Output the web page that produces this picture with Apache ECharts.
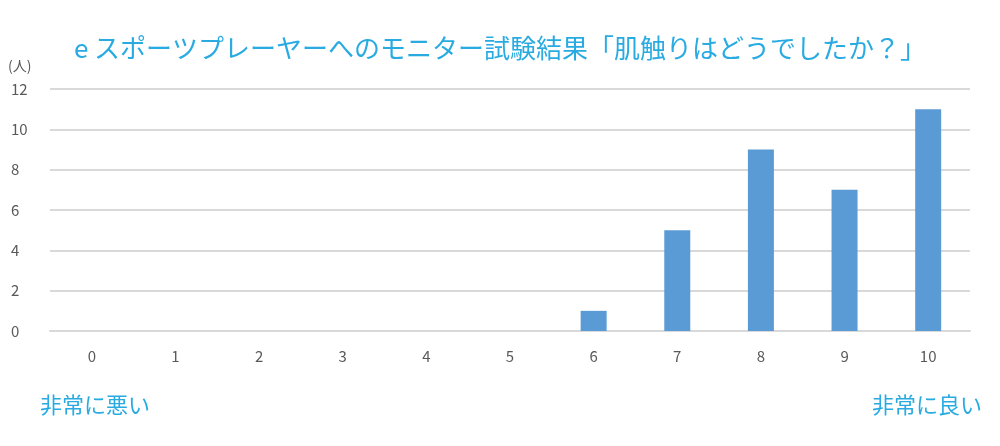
<!DOCTYPE html>
<html>
<head>
<meta charset="utf-8">
<script src="https://cdn.jsdelivr.net/npm/echarts@6/dist/echarts.min.js"></script>
<style>
  html, body { margin: 0; padding: 0; background: #fff; }
  #chart { width: 1000px; height: 446px; }
</style>
</head>
<body>
<div id="chart"></div>
<script>
const categories = ['0', '1', '2', '3', '4', '5', '6', '7', '8', '9', '10'];
const counts = [0, 0, 0, 0, 0, 0, 1, 5, 9, 7, 11];
const titleText = 'e スポーツプレーヤーへのモニター試験結果「肌触りはどうでしたか？」';

const blue = '#29abe2';
const font = '"Noto Sans CJK JP", "Noto Sans", sans-serif';

var myChart = echarts.init(document.getElementById('chart'));
myChart.setOption({
  animation: false,
  title: {
    text: titleText,
    left: 'center',
    top: 30,
    textStyle: { color: blue, fontSize: 26, fontWeight: 'normal', fontFamily: font }
  },
  grid: { left: 50, right: 30, top: 89, bottom: 115 },
  xAxis: {
    type: 'category',
    data: categories,
    axisLine: { lineStyle: { color: '#d9d9d9', width: 2 } },
    axisTick: { show: false },
    axisLabel: { color: '#595959', fontSize: 15, margin: 18, fontFamily: font }
  },
  yAxis: {
    type: 'value',
    min: 0,
    max: 12,
    interval: 2,
    axisLine: { show: false },
    axisTick: { show: false },
    axisLabel: { color: '#595959', fontSize: 15, align: 'left', margin: 39, fontFamily: font },
    splitLine: { lineStyle: { color: '#d9d9d9', width: 2 } }
  },
  series: [{
    type: 'bar',
    data: counts,
    barWidth: 26,
    itemStyle: { color: '#5b9bd5', borderWidth: 0 }
  }],
  graphic: [
    { type: 'text', left: 8, top: 59, style: { text: '(人)', fill: '#595959', fontSize: 14, fontFamily: font } },
    { type: 'text', left: 40, top: 394, style: { text: '非常に悪い', fill: blue, fontSize: 22, fontFamily: font } },
    { type: 'text', right: 18, top: 394, style: { text: '非常に良い', fill: blue, fontSize: 22, fontFamily: font } }
  ]
});
</script>
</body>
</html>
